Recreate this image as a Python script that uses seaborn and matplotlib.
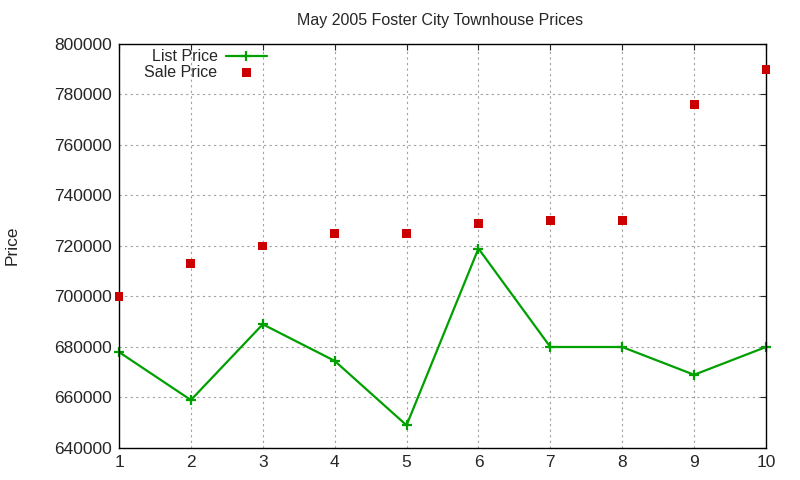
import matplotlib
matplotlib.use("Agg")
import matplotlib.pyplot as plt
import seaborn as sns
import pandas as pd

# Values
listing = [1, 2, 3, 4, 5, 6, 7, 8, 9, 10]
list_price = [678000, 659000, 689000, 674500, 649000, 719000, 680000, 680000, 669000, 680000]
sale_price = [700000, 713000, 720000, 725000, 725000, 729000, 730000, 730000, 776000, 790000]
y_ticks = [640000, 660000, 680000, 700000, 720000, 740000, 760000, 780000, 800000]

df = pd.DataFrame({"n": listing, "list": list_price, "sale": sale_price})

sns.set_style("white")
plt.rcParams["font.family"] = ["Liberation Sans", "DejaVu Sans"]

fig = plt.figure(figsize=(8, 4.8), dpi=100)
ax = fig.add_axes([119 / 800, 32 / 480, 647 / 800, 404 / 480])

sns.lineplot(data=df, x="n", y="list", ax=ax, color="#00a000", lw=1.6,
             marker="+", markersize=7, markeredgewidth=1.6,
             markeredgecolor="#00a000", label="List Price", clip_on=False)
sns.scatterplot(data=df, x="n", y="sale", ax=ax, color="#cc0000", marker="s",
                s=40, edgecolor="none", label="Sale Price", clip_on=False, zorder=5)

ax.set_xlim(1, 10)
ax.set_ylim(640000, 800000)
ax.set_xticks(listing)
ax.set_yticks(y_ticks)
ax.set_yticklabels([str(v) for v in y_ticks])
ax.tick_params(labelsize=12.5, length=4, direction="in", top=True, right=True, pad=5)
ax.grid(True, color="#a0a0a0", linestyle=(0, (2, 3)), lw=0.8)
for s in ax.spines.values():
    s.set_color("black")
    s.set_linewidth(1)

ax.set_xlabel("")
ax.set_ylabel("")
fig.text(12 / 800, 1 - 245 / 480, "Price", rotation=90, ha="center", va="center", fontsize=12.5)
fig.text(440 / 800, 1 - 20 / 480, "May 2005 Foster City Townhouse Prices",
         ha="center", va="center", fontsize=11.5)

leg = ax.legend(loc="upper right", frameon=False, markerfirst=False, fontsize=11.5,
                bbox_to_anchor=((273.5 - 119) / 647, 1.003), handlelength=2.6,
                labelspacing=0.05, borderaxespad=0.0, handletextpad=0.5)

fig.savefig("out.png", dpi=100)
